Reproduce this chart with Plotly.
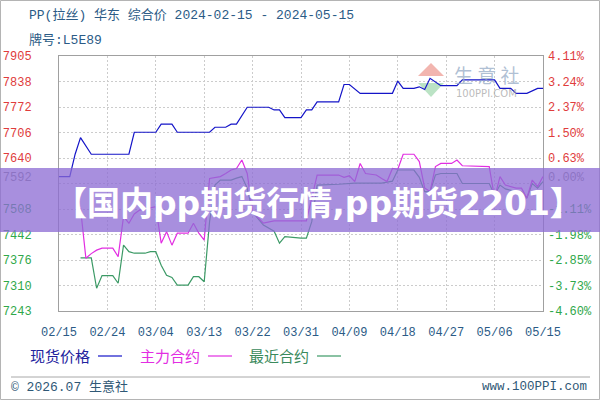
import plotly.graph_objects as go

# ---------------- data ----------------
spot_dates = ["2024-02-15","2024-02-17","2024-02-18","2024-02-19","2024-02-21","2024-02-28","2024-02-29",
              "2024-03-04","2024-03-05","2024-03-07","2024-03-08","2024-03-14","2024-03-15","2024-03-17",
              "2024-03-18","2024-03-19","2024-03-21","2024-03-25","2024-03-26","2024-03-27","2024-03-28",
              "2024-03-31","2024-04-01","2024-04-02","2024-04-03","2024-04-07","2024-04-08","2024-04-09",
              "2024-04-11","2024-04-17","2024-04-18","2024-04-19","2024-04-21","2024-04-22","2024-04-23",
              "2024-04-24","2024-04-26","2024-04-29","2024-04-30","2024-05-06","2024-05-07","2024-05-09",
              "2024-05-10","2024-05-12","2024-05-14","2024-05-15"]
spot_values = [7592,7592,7650,7693,7650,7650,7707,
               7707,7728,7728,7707,7707,7720,7720,
               7728,7728,7772,7772,7765,7765,7745,
               7745,7765,7765,7786,7786,7831,7831,
               7808,7808,7840,7821,7821,7825,7818,
               7847,7828,7828,7843,7843,7821,7821,
               7808,7808,7821,7821]

main_dates = ["2024-02-19","2024-02-20","2024-02-21","2024-02-22","2024-02-23","2024-02-25","2024-02-26",
              "2024-02-27","2024-02-28","2024-02-29","2024-03-01","2024-03-03","2024-03-04","2024-03-05",
              "2024-03-06","2024-03-07","2024-03-08","2024-03-10","2024-03-11","2024-03-12","2024-03-13",
              "2024-03-14","2024-03-16","2024-03-17","2024-03-18","2024-03-19","2024-03-20","2024-03-21",
              "2024-03-22","2024-03-24","2024-03-26","2024-03-31","2024-04-01","2024-04-03","2024-04-07",
              "2024-04-08","2024-04-09","2024-04-10","2024-04-11","2024-04-12","2024-04-14","2024-04-15",
              "2024-04-16","2024-04-17","2024-04-18","2024-04-19","2024-04-21","2024-04-22","2024-04-23",
              "2024-04-24","2024-04-25","2024-04-26","2024-04-28","2024-04-29","2024-04-30","2024-05-05",
              "2024-05-06","2024-05-07","2024-05-08","2024-05-10","2024-05-11","2024-05-12","2024-05-13",
              "2024-05-14","2024-05-15"]
main_values = [7510,7380,7392,7401,7406,7406,7384,
               7488,7471,7495,7505,7510,7514,7419,
               7449,7414,7445,7445,7471,7445,7427,
               7587,7592,7600,7609,7613,7635,7600,
               7500,7471,7477,7477,7477,7596,7596,
               7590,7594,7579,7626,7600,7596,7587,
               7579,7613,7611,7650,7650,7631,7562,
               7553,7618,7626,7626,7635,7620,7618,
               7536,7592,7570,7562,7562,7536,7583,
               7566,7592]

near_dates = ["2024-02-19","2024-02-21","2024-02-22","2024-02-23","2024-02-25","2024-02-26","2024-02-27",
              "2024-02-28","2024-02-29","2024-03-02","2024-03-03","2024-03-04","2024-03-05","2024-03-06",
              "2024-03-07","2024-03-08","2024-03-10","2024-03-11","2024-03-12","2024-03-13","2024-03-14",
              "2024-03-15","2024-03-16","2024-03-18","2024-03-19","2024-03-20","2024-03-21","2024-03-22",
              "2024-03-24","2024-03-26","2024-03-27","2024-03-28","2024-03-31","2024-04-01","2024-04-02",
              "2024-04-03","2024-04-07","2024-04-10","2024-04-15","2024-04-17","2024-04-18","2024-04-21",
              "2024-04-22","2024-04-23","2024-04-24","2024-04-25","2024-04-26","2024-04-29","2024-04-30",
              "2024-05-05","2024-05-06","2024-05-07","2024-05-08","2024-05-10","2024-05-11","2024-05-12",
              "2024-05-13","2024-05-14","2024-05-15"]
near_values = [7381,7381,7302,7335,7335,7315,7414,
               7397,7393,7393,7397,7397,7362,7336,
               7330,7310,7310,7332,7332,7319,7475,
               7570,7583,7583,7588,7592,7562,7500,
               7466,7450,7419,7436,7432,7432,7475,
               7570,7572,7575,7575,7580,7609,7609,
               7590,7553,7553,7596,7600,7600,7574,
               7574,7544,7570,7560,7553,7553,7536,
               7574,7562,7579]

x_tick_dates = ["2024-02-15","2024-02-24","2024-03-04","2024-03-13","2024-03-22","2024-03-31",
                "2024-04-09","2024-04-18","2024-04-27","2024-05-06","2024-05-15"]
x_tick_labels = ["02/15","02/24","03/04","03/13","03/22","03/31","04/09","04/18","04/27","05/06","05/15"]

y_grid_vals = [7905, 7838.8, 7772.6, 7706.4, 7640.2, 7574, 7507.8, 7441.6, 7375.4, 7309.2, 7243]
y_label_vals = [7905, 7838.8, 7772.6, 7706.4, 7640.2, 7592, 7507.8, 7441.6, 7375.4, 7309.2, 7243]
y_left_labels = ["7905","7838","7772","7706","7640","7592","7508","7442","7376","7310","7243"]
y_right_labels = ["4.11%","3.24%","2.37%","1.50%","0.63%","0.00%","-1.11%","-1.98%","-2.85%","-3.73%","-4.60%"]
y_range = [7243, 7905]

series_names = ["现货价格", "主力合约", "最近合约"]
title_line1 = "PP(拉丝) 华东 综合价 2024-02-15 - 2024-05-15"
title_line2 = "牌号:L5E89"
banner_text = "【国内pp期货行情,pp期货2201】"

# ---------------- styling helpers ----------------
L, R, T, B = 59, 57, 56, 89
W, H = 600, 400
PW, PH = W - L - R, H - T - B
def px(X):
    return (X - L) / PW
def py(Y):
    return (H - B - Y) / PH

RED = "#e03c3c"
GREEN = "#2fa84a"
GREY = "#8c8c8c"
BLUE = "#1414c8"
MAG = "#e22ee2"
GRN = "#3c9a66"
TXT = "#2b5b86"
MONO = "Liberation Mono, Noto Sans CJK SC"
CJK = "Noto Sans CJK SC"

def colored(labels):
    out = []
    for i, t in enumerate(labels):
        c = RED if i < 5 else (GREY if i == 5 else GREEN)
        out.append(f'<span style="color:{c}">{t}</span>')
    return out

fig = go.Figure()
fig.add_trace(go.Scatter(x=near_dates, y=near_values, mode="lines", name=series_names[2],
                         line=dict(color=GRN, width=1.2)))
fig.add_trace(go.Scatter(x=main_dates, y=main_values, mode="lines", name=series_names[1],
                         line=dict(color=MAG, width=1.2)))
fig.add_trace(go.Scatter(x=spot_dates, y=spot_values, mode="lines", name=series_names[0],
                         line=dict(color=BLUE, width=1.2)))
fig.add_trace(go.Scatter(x=[], y=[], yaxis="y2", showlegend=False, hoverinfo="skip"))

fig.update_layout(
    width=W, height=H,
    margin=dict(l=L, r=R, t=T, b=B, autoexpand=False),
    paper_bgcolor="white", plot_bgcolor="white",
    showlegend=False,
    xaxis=dict(type="date", range=[x_tick_dates[0], x_tick_dates[-1]], automargin=False,
               tickmode="array", tickvals=x_tick_dates, ticktext=x_tick_labels,
               showgrid=True, gridcolor="#cccccc", griddash="2px,2px", gridwidth=1,
               showline=True, linecolor="#a0a0a0", linewidth=1, mirror=True,
               ticks="", ticklabelstandoff=10,
               tickfont=dict(family=MONO, size=12, color=TXT), zeroline=False),
    yaxis=dict(range=y_range, tickmode="array", tickvals=y_label_vals, ticktext=colored(y_left_labels),
               showgrid=False, zeroline=False, automargin=False,
               minor=dict(tickmode="array", tickvals=y_grid_vals, showgrid=True,
                          gridcolor="#cccccc", griddash="2px,2px", gridwidth=1, ticks=""),
               showline=True, linecolor="#a0a0a0", linewidth=1, mirror=True,
               ticks="", ticklabelstandoff=24,
               tickfont=dict(family=MONO, size=12, color=GREY)),
    yaxis2=dict(range=y_range, overlaying="y", side="right", tickmode="array", automargin=False,
                tickvals=y_label_vals, ticktext=colored(y_right_labels),
                showgrid=False, zeroline=False, showline=False, ticks="", ticklabelstandoff=4,
                tickfont=dict(family=MONO, size=12, color=GREY)),
)

shapes = []
ann = []
# outer frame
shapes.append(dict(type="rect", xref="paper", yref="paper", x0=px(0.5), x1=px(599.5), y0=py(399.5), y1=py(0.5),
                   line=dict(color="#b4b4b4", width=1), layer="below"))
# separator
shapes.append(dict(type="line", xref="paper", yref="paper", x0=px(11), x1=px(590), y0=py(377), y1=py(377),
                   line=dict(color="#a8a8a8", width=1)))

# titles
ann.append(dict(text=title_line1, xref="paper", yref="paper", x=px(27), y=py(16), xanchor="left", yanchor="middle",
                showarrow=False, font=dict(family=MONO, size=13, color=TXT)))
ann.append(dict(text=title_line2, xref="paper", yref="paper", x=px(27), y=py(40), xanchor="left", yanchor="middle",
                showarrow=False, font=dict(family=MONO, size=13, color=TXT)))

# legend
leg = [(series_names[0], "#22229e", BLUE, 28, 98),
       (series_names[1], MAG, MAG, 138, 208),
       (series_names[2], "#3a8a5c", GRN, 247, 317)]
for name, tc, lc, tx, lx in leg:
    ann.append(dict(text=name, xref="paper", yref="paper", x=px(tx), y=py(355), xanchor="left", yanchor="middle",
                    showarrow=False, font=dict(family=CJK, size=15, color=tc)))
    shapes.append(dict(type="line", xref="paper", yref="paper", x0=px(lx), x1=px(lx + 24), y0=py(356), y1=py(356),
                       line=dict(color=lc, width=1.2)))

# footer
ann.append(dict(text="© 2026.07 生意社", xref="paper", yref="paper", x=px(9), y=py(387), xanchor="left",
                yanchor="middle", showarrow=False, font=dict(family=MONO, size=13, color="#2f5876")))
ann.append(dict(text="www.100PPI.com", xref="paper", yref="paper", x=px(589), y=py(387), xanchor="right",
                yanchor="middle", showarrow=False, font=dict(family=MONO, size=12.5, color="#2f5876")))

# watermark logo
shapes.append(dict(type="path", xref="paper", yref="paper",
                   path=f"M {px(418)} {py(76)} L {px(431)} {py(63)} L {px(444)} {py(76)} Z",
                   fillcolor="rgba(232,120,110,0.55)", line=dict(width=0), layer="below"))
shapes.append(dict(type="path", xref="paper", yref="paper",
                   path=f"M {px(418)} {py(83)} L {px(444)} {py(83)} L {px(431)} {py(97)} Z",
                   fillcolor="rgba(120,200,140,0.5)", line=dict(width=0), layer="below"))
ann.append(dict(text="生 意 社", xref="paper", yref="paper", x=px(487), y=py(74), xanchor="center", yanchor="middle",
                showarrow=False, font=dict(family=CJK, size=19, color="rgba(150,172,198,0.75)")))
ann.append(dict(text="100PPI.COM", xref="paper", yref="paper", x=px(486), y=py(93), xanchor="center",
                yanchor="middle", showarrow=False, font=dict(family="DejaVu Sans", size=10, color="rgba(170,170,170,0.8)")))

# banner
shapes.append(dict(type="rect", xref="paper", yref="paper", x0=px(0), x1=px(600), y0=py(232), y1=py(168),
                   fillcolor="rgba(140,108,212,0.76)", line=dict(width=0), layer="above"))
ann.append(dict(text="<b>" + banner_text + "</b>", xref="paper", yref="paper", x=px(318), y=py(204),
                xanchor="center", yanchor="middle", showarrow=False,
                font=dict(family="DejaVu Sans, Noto Sans CJK SC", size=33, color="white")))

fig.update_layout(shapes=shapes, annotations=ann)
fig.write_html("out.html")
